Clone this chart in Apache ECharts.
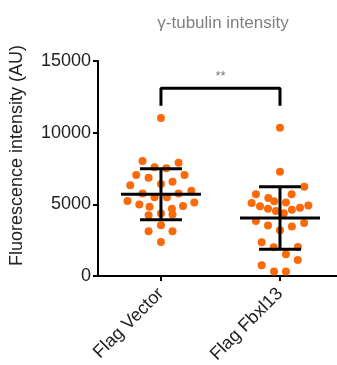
<!DOCTYPE html>
<html>
<head>
<meta charset="utf-8">
<script src="https://cdn.jsdelivr.net/npm/echarts@6/dist/echarts.min.js"></script>
<style>
  html, body { margin: 0; padding: 0; background: #fff; }
  #chart { width: 337px; height: 365px; }
</style>
</head>
<body>
<div id="chart"></div>
<script>
// groups on the x axis
var groups = ['Flag Vector', 'Flag Fbxl13'];

// individual cells (AU) + horizontal spread inside the column
var vectorValues = [11020, 8020, 7580, 7510, 7900, 7040, 6850, 7040, 6340, 6410, 6570,
  5760, 5490, 5490, 5760, 5940, 5240, 4990, 4840, 4700, 4890, 5130,
  4240, 4360, 4290, 3540, 3120, 3120, 2380];
var vectorSpread = [0, -0.155, -0.054, 0.045, 0.148, -0.208, -0.104, 0.198, -0.258, 0, 0.097,
  -0.155, -0.054, 0.05, 0.148, 0.255, -0.281, -0.182, -0.096, 0.092, 0.185, 0.28,
  -0.104, 0, 0.097, 0, -0.104, 0.097, 0];

var fbxlValues = [10350, 7270, 6220, 5710, 5710, 5450, 5220, 5130, 5100, 4870, 4690,
  4540, 4620, 4770, 4920, 4380, 3840, 3520, 3200, 3460, 3700,
  2360, 2000, 2030, 1510, 1120, 750, 310, 310];
var fbxlSpread = [0, 0, 0.204, -0.202, 0.098, -0.098, -0.049, 0.05, -0.238, -0.168, -0.101,
  -0.034, 0.1, 0.168, 0.238, 0.032, -0.202, -0.101, 0, 0.1, 0.203,
  -0.154, -0.053, 0.151, 0.05, 0.149, -0.154, -0.05, 0.05];

// mean +/- SD as drawn
var groupMeans = [5700, 4050];
var groupSD = [1780, 2175];

// significance bracket
var bracketY = [11870, 13100];
var sigMark = '**';
var sigY = 13950;

var font = '"Liberation Sans", Arial, sans-serif';

function toPoints(values, spread, idx) {
  return values.map(function (v, i) { return [idx + spread[i], v]; });
}

function renderErrorBar(params, api) {
  var x = api.value(0), m = api.value(1), s = api.value(2);
  var c = api.coord([x, m]);
  var hi = api.coord([x, m + s]);
  var lo = api.coord([x, m - s]);
  var half = api.size([0.336, 0])[0];
  var cap = api.size([0.176, 0])[0];
  var st = { stroke: '#000', lineWidth: 3 };
  return {
    type: 'group',
    children: [
      { type: 'line', shape: { x1: c[0] - half, y1: c[1], x2: c[0] + half, y2: c[1] }, style: st },
      { type: 'line', shape: { x1: hi[0], y1: hi[1], x2: lo[0], y2: lo[1] }, style: st },
      { type: 'line', shape: { x1: hi[0] - cap, y1: hi[1], x2: hi[0] + cap, y2: hi[1] }, style: st },
      { type: 'line', shape: { x1: lo[0] - cap, y1: lo[1], x2: lo[0] + cap, y2: lo[1] }, style: st }
    ]
  };
}

var myChart = echarts.init(document.getElementById('chart'));
var option = {
  animation: false,
  title: {
    text: 'γ-tubulin intensity',
    left: 218,
    textAlign: 'center',
    top: 10,
    textStyle: { fontFamily: font, fontSize: 17, fontWeight: 'normal', color: '#808080' }
  },
  grid: { left: 98, right: 0, top: 61, bottom: 89, containLabel: false, outerBoundsMode: 'none' },
  xAxis: {
    type: 'value',
    min: -0.529,
    max: 1.479,
    splitLine: { show: false },
    axisLine: { onZero: false, lineStyle: { color: '#000', width: 2 } },
    axisTick: { show: true, customValues: [0, 1], length: 5, lineStyle: { color: '#000', width: 2 } },
    axisLabel: {
      customValues: [0, 1],
      rotate: 45,
      margin: 15,
      fontFamily: font,
      fontSize: 18,
      color: '#222',
      formatter: function (v) { return groups[Math.round(v)]; }
    }
  },
  yAxis: {
    type: 'value',
    min: 0,
    max: 15000,
    interval: 5000,
    name: 'Fluorescence intensity (AU)',
    nameLocation: 'middle',
    nameGap: 72,
    nameTextStyle: { fontFamily: font, fontSize: 18, color: '#222', padding: [0, 0, 0, 26] },
    splitLine: { show: false },
    axisLine: { show: true, onZero: false, lineStyle: { color: '#000', width: 2 } },
    axisTick: { show: true, length: 5, lineStyle: { color: '#000', width: 2 } },
    axisLabel: {
      margin: 7, fontFamily: font, fontSize: 18, color: '#222',
      formatter: function (v) { return String(v); }
    }
  },
  series: [
    {
      type: 'scatter',
      data: toPoints(vectorValues, vectorSpread, 0),
      symbolSize: 8,
      itemStyle: { color: '#fa6a0a', opacity: 1 },
      z: 2
    },
    {
      type: 'scatter',
      data: toPoints(fbxlValues, fbxlSpread, 1),
      symbolSize: 8,
      itemStyle: { color: '#fa6a0a', opacity: 1 },
      z: 2
    },
    {
      type: 'custom',
      renderItem: renderErrorBar,
      data: groupMeans.map(function (m, i) { return [i, m, groupSD[i]]; }),
      z: 3
    },
    {
      type: 'line',
      data: [[0, bracketY[0]], [0, bracketY[1]], [1, bracketY[1]], [1, bracketY[0]]],
      symbol: 'none',
      lineStyle: { color: '#000', width: 3 },
      z: 3
    },
    {
      type: 'scatter',
      data: [[0.5, sigY]],
      symbolSize: 0,
      label: {
        show: true,
        position: 'inside',
        formatter: sigMark,
        fontFamily: font,
        fontSize: 13,
        color: '#555'
      }
    }
  ]
};
myChart.setOption(option);
</script>
</body>
</html>
